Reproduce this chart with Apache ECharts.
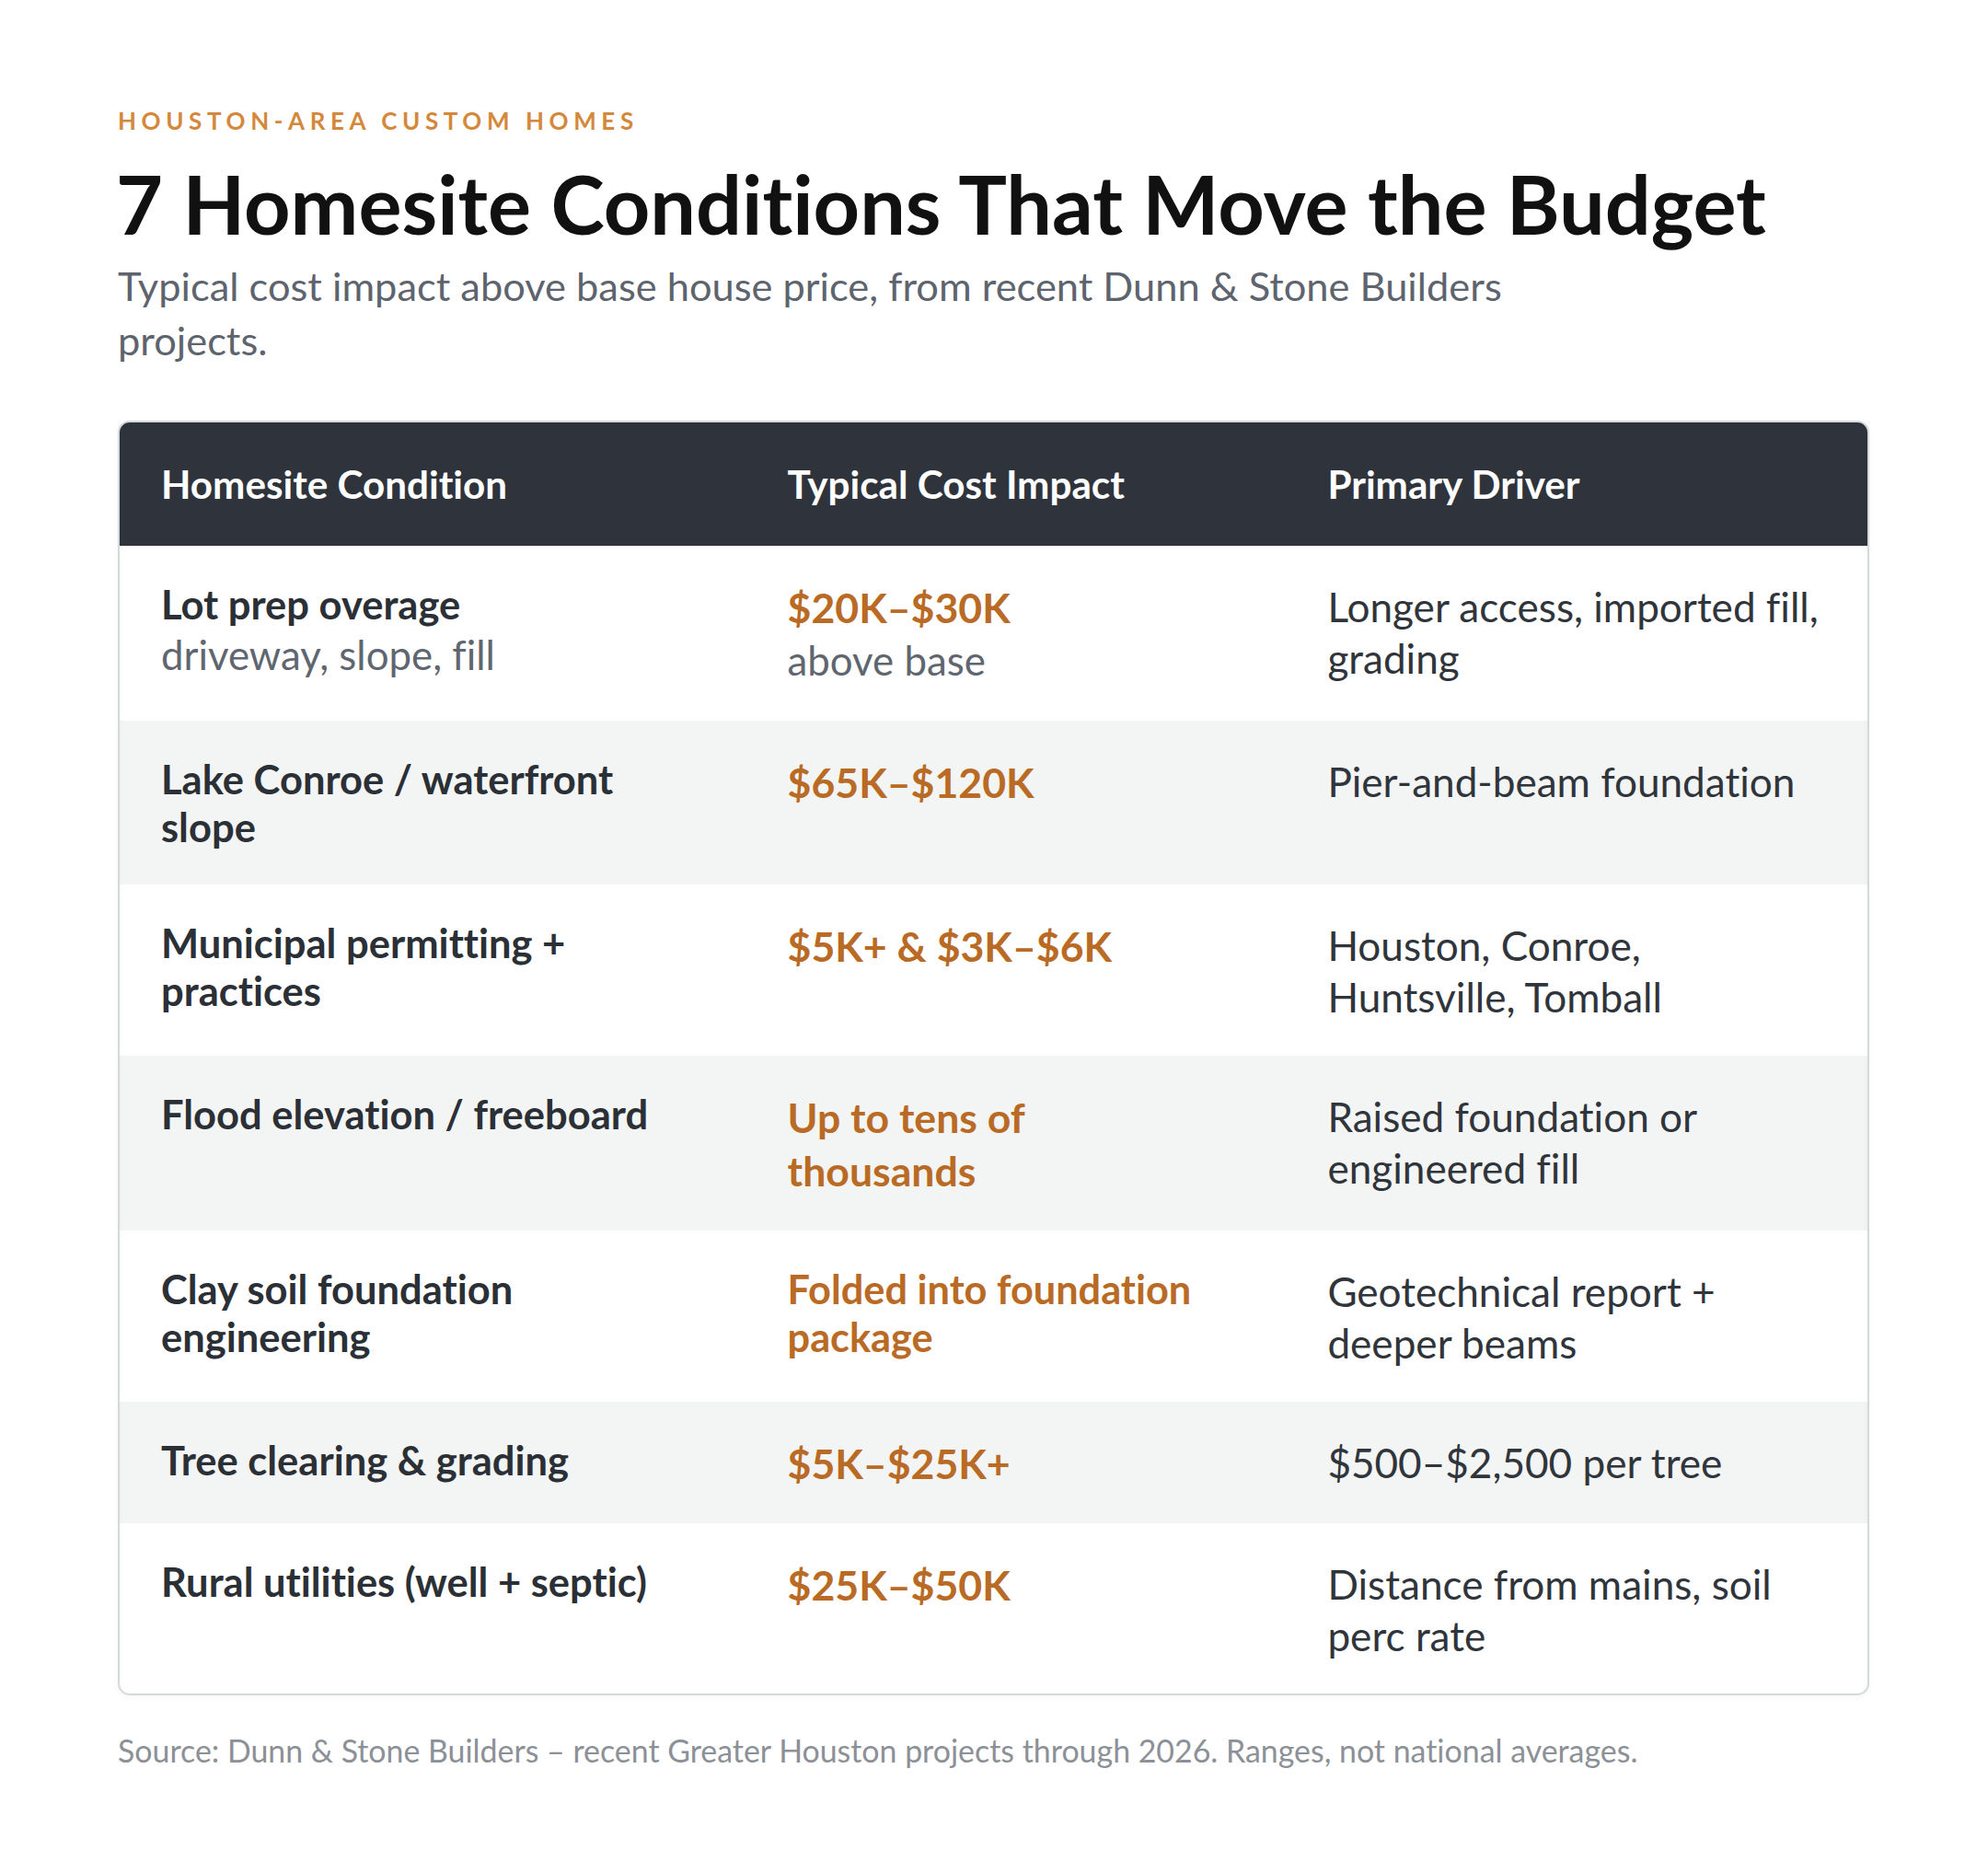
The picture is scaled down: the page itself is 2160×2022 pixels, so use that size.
<!DOCTYPE html>
<html>
<head>
<meta charset="utf-8">
<title>7 Homesite Conditions That Move the Budget</title>
<script src="https://cdn.jsdelivr.net/npm/echarts@6/dist/echarts.min.js"></script>
<style>
	html, body { margin: 0; padding: 0; background: #fff; }
	#chart { width: 2160px; height: 2022px; }
	#chart text { font-variant-ligatures: none !important; }
</style>
</head>
<body>
<div id="chart"></div>
<script>
// ---- data ----
const eyebrow = 'HOUSTON-AREA CUSTOM HOMES';
const headline = '7 Homesite Conditions That Move the Budget';
const subtitleLines = [
	'Typical cost impact above base house price, from recent Dunn & Stone Builders',
	'projects.'
];
const sourceNote = 'Source: Dunn & Stone Builders – recent Greater Houston projects through 2026. Ranges, not national averages.';

const columnTitles = [ 'Homesite Condition', 'Typical Cost Impact', 'Primary Driver' ];

const conditions = [
	[ 'Lot prep overage' ],
	[ 'Lake Conroe / waterfront', 'slope' ],
	[ 'Municipal permitting +', 'practices' ],
	[ 'Flood elevation / freeboard' ],
	[ 'Clay soil foundation', 'engineering' ],
	[ 'Tree clearing & grading' ],
	[ 'Rural utilities (well + septic)' ]
];
const conditionNotes = [ [ 'driveway, slope, fill' ], [], [], [], [], [], [] ];

const costs = [
	[ '$20K–$30K' ],
	[ '$65K–$120K' ],
	[ '$5K+ & $3K–$6K' ],
	[ 'Up to tens of', 'thousands' ],
	[ 'Folded into foundation', 'package' ],
	[ '$5K–$25K+' ],
	[ '$25K–$50K' ]
];
const costNotes = [ [ 'above base' ], [], [], [], [], [], [] ];

const drivers = [
	[ 'Longer access, imported fill,', 'grading' ],
	[ 'Pier-and-beam foundation' ],
	[ 'Houston, Conroe,', 'Huntsville, Tomball' ],
	[ 'Raised foundation or', 'engineered fill' ],
	[ 'Geotechnical report +', 'deeper beams' ],
	[ '$500–$2,500 per tree' ],
	[ 'Distance from mains, soil', 'perc rate' ]
];

// ---- layout & style ----
const FAMILY = 'Lato, "Noto Sans", sans-serif';
const COLORS = {
	eyebrow: '#D4883C',
	title: '#111111',
	subtitle: '#5E646E',
	header: '#2F333B',
	headerText: '#FFFFFF',
	stripe: '#F3F5F4',
	border: '#D6D9D9',
	strong: '#2B2F36',
	body: '#30343B',
	note: '#5F6670',
	cost: '#B96A24',
	source: '#8C9097'
};
const COL_EDGES = [ 0, 0.358, 0.6667 ];
const CELL_PAD_X = 46;
const ROW_PAD = 37;
const HEADER_PAD = 48;
const HEADER_LH = 39;
const compactCostRows = [ 4 ];

const measureCtx = document.createElement( 'canvas' ).getContext( '2d' );
const textWidth = ( text, weight, size ) => {
	measureCtx.font = `${ weight } ${ size }px ${ FAMILY }`;
	return measureCtx.measureText( text ).width;
};
// pick a font size so a reference string spans the width seen in the original
const fitSize = ( text, weight, target ) => +( 100 * target / textWidth( text, weight, 100 ) ).toFixed( 1 );

const sizes = {
	eyebrow: 26,
	title: fitSize( headline, 700, 1798 ),
	subtitle: fitSize( subtitleLines[ 0 ], 400, 1503 ),
	header: fitSize( columnTitles[ 0 ], 700, 377 ),
	condition: fitSize( conditions[ 0 ][ 0 ], 700, 325 ),
	note: fitSize( conditionNotes[ 0 ][ 0 ], 400, 362 ),
	cost: fitSize( costs[ 1 ][ 0 ], 700, 268 ),
	costCompact: fitSize( costs[ 4 ][ 0 ], 700, 439 ),
	driver: fitSize( drivers[ 0 ][ 0 ], 400, 533 ),
	source: fitSize( sourceNote, 400, 1651 )
};
const eyebrowSpacing = ( 561 - textWidth( eyebrow, 700, sizes.eyebrow ) ) / ( eyebrow.length - 1 );

const cellStyles = {
	header: { weight: 700, size: sizes.header, lh: HEADER_LH, color: COLORS.headerText },
	condition: { weight: 700, size: sizes.condition, lh: 52, color: COLORS.strong },
	note: { weight: 400, size: sizes.note, lh: 58, color: COLORS.note },
	cost: { weight: 700, size: sizes.cost, lh: 58, color: COLORS.cost },
	costCompact: { weight: 700, size: sizes.costCompact, lh: 52, color: COLORS.cost },
	driver: { weight: 400, size: sizes.driver, lh: 56, color: COLORS.body }
};

const tag = ( lines, style ) => lines.map( ( text ) => ( { text, style } ) );

const cellLines = ( r ) => [
	tag( conditions[ r ], cellStyles.condition ).concat( tag( conditionNotes[ r ], cellStyles.note ) ),
	tag( costs[ r ], compactCostRows.includes( r ) ? cellStyles.costCompact : cellStyles.cost )
		.concat( tag( costNotes[ r ], cellStyles.note ) ),
	tag( drivers[ r ], cellStyles.driver )
];

const cellHeight = ( lines ) => lines.reduce( ( sum, l ) => sum + l.style.lh, 0 );

// row boundaries follow from how many lines each row holds
const rowTops = [ 0, HEADER_PAD * 2 + HEADER_LH ];
conditions.forEach( ( _, r ) => {
	const h = ROW_PAD * 2 + Math.max( ...cellLines( r ).map( cellHeight ) );
	rowTops.push( rowTops[ rowTops.length - 1 ] + h );
} );
const tableHeight = rowTops[ rowTops.length - 1 ];
const rowData = rowTops.slice( 0, -1 ).map( ( top, i ) => [ top, rowTops[ i + 1 ], i ] );

const renderRow = ( params, api ) => {
	const i = api.value( 2 );
	const [ left, top ] = api.coord( [ 0, api.value( 0 ) ] );
	const [ right, bottom ] = api.coord( [ 1, api.value( 1 ) ] );
	const width = right - left;
	const isHeader = i === 0;
	const fill = isHeader ? COLORS.header : ( i % 2 === 0 ? COLORS.stripe : '#ffffff' );
	const children = [ {
		type: 'rect',
		shape: { x: left, y: top, width, height: bottom - top, r: isHeader ? [ 12, 12, 0, 0 ] : 0 },
		style: { fill }
	} ];
	const cols = isHeader ?
		columnTitles.map( ( t ) => [ { text: t, style: cellStyles.header } ] ) :
		cellLines( i - 1 );
	cols.forEach( ( lines, c ) => {
		const x = left + COL_EDGES[ c ] * width + CELL_PAD_X;
		let y = top + ( isHeader ? HEADER_PAD : ROW_PAD );
		lines.forEach( ( { text, style } ) => {
			children.push( {
				type: 'text',
				style: {
					text,
					x,
					y: y + style.lh / 2,
					fill: style.color,
					font: `${ style.weight } ${ style.size }px ${ FAMILY }`,
					align: 'left',
					verticalAlign: 'middle'
				}
			} );
			y += style.lh;
		} );
	} );
	return { type: 'group', children };
};

const renderBorder = ( params ) => {
	const cs = params.coordSys;
	return {
		type: 'rect',
		shape: { x: cs.x, y: cs.y, width: cs.width, height: cs.height, r: 12 },
		style: {
			fill: 'none',
			stroke: COLORS.border,
			lineWidth: 2,
			shadowBlur: 4,
			shadowOffsetY: 2,
			shadowColor: 'rgba(0,0,0,0.06)'
		}
	};
};

const textEl = ( text, x, y, weight, size, color ) => ( {
	type: 'text',
	x,
	y,
	style: {
		text,
		fill: color,
		font: `${ weight } ${ size }px ${ FAMILY }`,
		align: 'left',
		verticalAlign: 'middle'
	}
} );

const chart = echarts.init( document.getElementById( 'chart' ), null, { renderer: 'svg' } );

chart.setOption( {
	animation: false,
	backgroundColor: '#ffffff',
	grid: { left: 129, right: 130, top: 458, height: tableHeight, containLabel: false },
	xAxis: { type: 'value', min: 0, max: 1, show: false },
	yAxis: { type: 'value', min: 0, max: tableHeight, inverse: true, show: false },
	graphic: [
		textEl( eyebrow, 128, 131, 700, sizes.eyebrow, COLORS.eyebrow ),
		textEl( headline, 126, 221, 700, sizes.title, COLORS.title ),
		textEl( subtitleLines[ 0 ], 128, 310, 400, sizes.subtitle, COLORS.subtitle ),
		textEl( subtitleLines[ 1 ], 128, 369, 400, sizes.subtitle, COLORS.subtitle ),
		textEl( sourceNote, 128, 1902, 400, sizes.source, COLORS.source )
	],
	series: [
		{
			type: 'custom',
			coordinateSystem: 'cartesian2d',
			renderItem: renderRow,
			data: rowData,
			clip: false,
			silent: true,
			z: 1
		},
		{
			type: 'custom',
			coordinateSystem: 'cartesian2d',
			renderItem: renderBorder,
			data: [ [ 0, 0 ] ],
			clip: false,
			silent: true,
			z: 2
		}
	]
} );

// tracked-out eyebrow: zrender has no letter-spacing, so set it on the svg text
const spaceEyebrow = () => {
	document.querySelectorAll( '#chart text' ).forEach( ( el ) => {
		if ( el.textContent === eyebrow ) {
			el.setAttribute( 'letter-spacing', eyebrowSpacing.toFixed( 2 ) );
			el.style.letterSpacing = eyebrowSpacing.toFixed( 2 ) + 'px';
		}
	} );
};
spaceEyebrow();
chart.on( 'finished', spaceEyebrow );
setTimeout( spaceEyebrow, 50 );
</script>
</body>
</html>
